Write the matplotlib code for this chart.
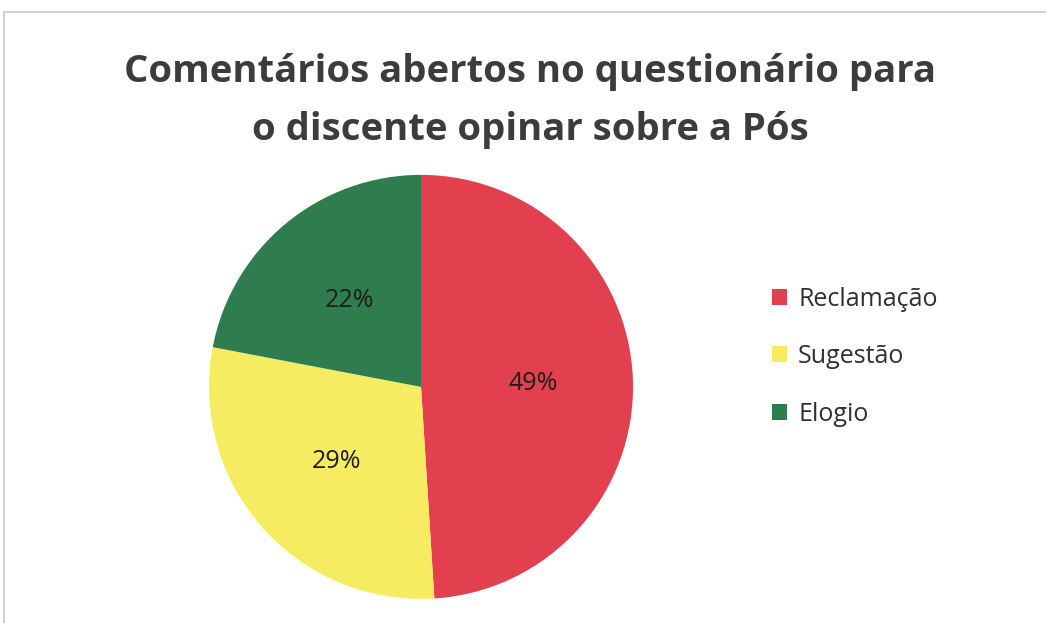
import matplotlib.pyplot as plt
from matplotlib.patches import Rectangle, Patch

# ---------- DATA ----------
categories = ["Reclamação", "Sugestão", "Elogio"]
values = [49, 29, 22]
colors = ["#E2404F", "#F6EC62", "#2F7D4E"]

title_lines = ["Comentários abertos no questionário para",
               "o discente opinar sobre a Pós"]

plt.rcParams["font.family"] = ["Open Sans", "DejaVu Sans"]

fig = plt.figure(figsize=(10.46, 6.23), dpi=100)
fig.patch.set_facecolor("white")

# chart frame (light gray border)
fig.patches.append(Rectangle((0.004, -0.01), 1.2, 0.99, transform=fig.transFigure,
                             fill=False, edgecolor="#C8C8C8", linewidth=1.2))

for yy, line in zip([0.884, 0.792], title_lines):
    fig.text(0.507, yy, line, ha="center", va="center", fontsize=27.5,
             fontweight="bold", color="#3C3C3C")

# ---------- PIE ----------
ax = fig.add_axes([0.1998, 0.0387, 0.4054, 0.6806])
wedges, texts, autotexts = ax.pie(values, colors=colors, startangle=90, counterclock=False,
                                  autopct="%1.0f%%", pctdistance=0.53,
                                  wedgeprops=dict(linewidth=0))
for t in autotexts:
    t.set_fontsize(18)
    t.set_color("#1E1E1E")
ax.set_xlim(-1, 1)
ax.set_ylim(-1, 1)
ax.set_aspect("equal")

# ---------- LEGEND ----------
handles = [Patch(facecolor=c, edgecolor="none") for c in colors]
leg = fig.legend(handles, categories, loc="upper left", bbox_to_anchor=(0.726, 0.56),
                 frameon=False, fontsize=18, handlelength=0.6, handleheight=0.6,
                 handletextpad=0.45, labelspacing=1.3, borderpad=0)
for t in leg.get_texts():
    t.set_color("#303030")

fig.savefig("out.png", dpi=100, facecolor="white")
